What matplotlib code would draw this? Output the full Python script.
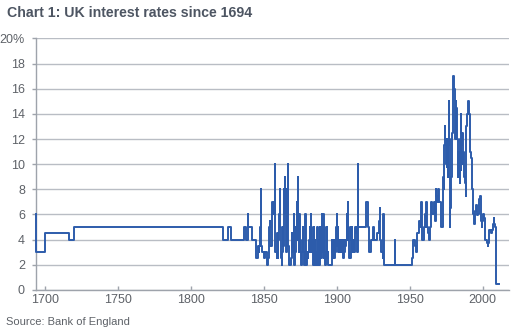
import matplotlib
matplotlib.use("Agg")
import matplotlib.pyplot as plt

plt.rcParams["font.family"] = ["Liberation Sans", "DejaVu Sans"]

LINE = "#2d5cab"
INK = "#4d5562"
GREY = "#5e6268"
GRID = "#b9bdc4"

# Bank Rate: year of each change and the rate (%) in force from then on
years = [
    1694.0, 1694.3, 1700.0, 1716.4, 1719.8, 1822.3, 1825.8, 1827.5, 1836.4, 1837.8,
    1839.0, 1839.4, 1842.2, 1844.6, 1845.8, 1846.6, 1847.0, 1847.3, 1847.8, 1847.9,
    1848.0, 1848.4, 1848.9, 1849.9, 1850.9, 1852.3, 1853.0, 1853.7, 1854.3, 1854.6,
    1855.4, 1855.7, 1855.8, 1856.2, 1856.8, 1856.9, 1857.4, 1857.8, 1857.85, 1857.95,
    1858.0, 1858.05, 1858.9, 1859.3, 1859.5, 1859.6, 1860.0, 1860.3, 1860.5, 1860.8,
    1861.0, 1861.1, 1861.2, 1861.4, 1861.6, 1861.8, 1862.0, 1862.5, 1862.8, 1863.0,
    1863.2, 1863.4, 1863.8, 1863.9, 1864.0, 1864.2, 1864.3, 1864.5, 1864.6, 1864.7,
    1864.9, 1865.0, 1865.2, 1865.5, 1865.7, 1865.8, 1866.0, 1866.2, 1866.4, 1866.6,
    1866.7, 1866.8, 1866.9, 1867.1, 1868.9, 1869.3, 1869.5, 1870.0, 1870.5, 1870.6,
    1870.7, 1871.0, 1871.5, 1871.8, 1872.0, 1872.3, 1872.7, 1872.9, 1873.0, 1873.3,
    1873.4, 1873.5, 1873.7, 1873.9, 1874.3, 1874.5, 1874.6, 1875.0, 1875.3, 1875.6,
    1876.0, 1876.5, 1877.0, 1877.2, 1877.5, 1878.0, 1878.3, 1878.6, 1878.8, 1879.1,
    1879.9, 1880.3, 1880.6, 1881.0, 1881.5, 1881.8, 1882.1, 1882.2, 1882.4, 1882.7,
    1883.0, 1883.3, 1883.6, 1884.0, 1884.5, 1884.7, 1885.0, 1885.4, 1885.8, 1886.0,
    1886.5, 1886.7, 1887.0, 1887.5, 1887.8, 1888.0, 1888.5, 1888.7, 1889.0, 1889.3,
    1889.6, 1889.9, 1890.0, 1890.5, 1890.7, 1891.0, 1891.3, 1891.6, 1891.9, 1892.2,
    1893.0, 1893.3, 1893.5, 1893.8, 1894.1, 1896.7, 1896.9, 1897.2, 1897.8, 1898.0,
    1898.4, 1898.7, 1898.9, 1899.2, 1899.6, 1899.9, 1900.0, 1900.2, 1900.5, 1900.7,
    1901.0, 1901.5, 1901.7, 1902.0, 1902.4, 1902.8, 1903.1, 1903.4, 1903.7, 1904.0,
    1904.3, 1904.6, 1905.0, 1905.5, 1905.7, 1906.0, 1906.5, 1906.8, 1907.0, 1907.2,
    1907.5, 1907.8, 1908.0, 1908.2, 1908.5, 1909.0, 1909.3, 1909.7, 1910.0, 1910.2,
    1910.5, 1910.8, 1911.0, 1911.8, 1912.0, 1912.7, 1913.0, 1913.5, 1913.8, 1914.0,
    1914.55, 1914.6, 1919.8, 1920.3, 1921.3, 1921.5, 1921.7, 1921.9, 1922.3, 1923.5,
    1925.2, 1925.8, 1927.3, 1929.1, 1929.7, 1929.9, 1930.0, 1930.3, 1931.4, 1931.6,
    1932.1, 1932.2, 1932.5, 1939.65, 1939.8, 1951.9, 1952.2, 1953.7, 1954.4, 1955.1,
    1956.1, 1957.2, 1957.7, 1958.2, 1959.8, 1960.3, 1960.9, 1961.5, 1961.9, 1962.3,
    1963.0, 1964.1, 1964.9, 1965.4, 1966.5, 1967.1, 1967.5, 1967.8, 1968.2, 1968.7,
    1969.2, 1970.2, 1971.3, 1971.7, 1972.5, 1972.8, 1973.0, 1973.3, 1973.6, 1973.9,
    1974.1, 1974.6, 1975.1, 1975.4, 1975.6, 1975.8, 1976.2, 1976.4, 1976.7, 1977.0,
    1977.3, 1977.7, 1977.9, 1978.3, 1978.9, 1979.4, 1979.9, 1980.5, 1980.9, 1981.2,
    1981.7, 1981.9, 1982.2, 1982.5, 1982.8, 1982.9, 1983.2, 1983.5, 1984.2, 1984.6,
    1984.9, 1985.1, 1985.4, 1985.8, 1986.1, 1986.5, 1986.8, 1987.3, 1987.8, 1988.4,
    1988.6, 1988.9, 1989.4, 1989.8, 1990.8, 1991.2, 1991.5, 1991.8, 1992.7, 1992.8,
    1993.1, 1993.9, 1994.1, 1994.7, 1994.9, 1995.1, 1995.9, 1996.3, 1996.8, 1997.4,
    1997.8, 1998.4, 1998.8, 1998.9, 1999.1, 1999.4, 1999.8, 2000.1, 2001.1, 2001.4,
    2001.7, 2001.9, 2003.1, 2003.5, 2003.9, 2004.2, 2004.5, 2005.6, 2006.6, 2006.9,
    2007.1, 2007.5, 2007.9, 2008.1, 2008.3, 2008.8, 2008.85, 2008.95, 2009.05, 2009.1,
    2009.2, 2011.5,
]
rates = [
    6, 3, 4.5, 4, 5, 4, 5, 4, 5, 4,
    6, 5, 4, 2.5, 3.5, 3, 3.5, 5, 8, 5,
    4, 3.5, 3, 2.5, 3, 2, 2.5, 5, 5.5, 3.5,
    3.5, 6, 7, 6, 7, 6, 6.5, 8, 10, 8,
    6, 3, 2.5, 4.5, 3, 2.5, 4, 5, 4, 6,
    7, 8, 6, 5, 4, 3, 2.5, 2, 3, 5,
    4, 3.5, 6, 8, 7, 6, 9, 6, 8, 9,
    6, 5, 3.5, 3, 5, 7, 8, 6, 10, 8,
    5, 4, 3.5, 2, 2.5, 4.5, 3, 3, 6, 4,
    2.5, 2, 3, 5, 3, 4, 6, 7, 5, 4,
    9, 6, 4, 3, 4, 6, 3, 4, 3, 2,
    2, 3, 5, 3, 2, 3, 5, 6, 4, 2,
    3, 2.5, 3, 4, 5, 3, 6, 4, 3, 5,
    3, 4, 3, 2, 5, 3, 4, 2, 3, 2,
    4, 5, 3, 2, 4, 2, 5, 3, 5, 2.5,
    5, 6, 3, 4, 6, 4, 2.5, 5, 3, 2,
    3, 5, 2.5, 3, 2, 4, 3, 2.5, 3, 4,
    2.5, 4, 3, 4, 5, 6, 5, 3.5, 4, 5,
    3, 4, 3, 4, 3, 4, 3, 4, 3, 4,
    3, 2.5, 3, 4, 3, 3.5, 4, 6, 5, 4,
    4.5, 7, 5, 3, 2.5, 3, 2.5, 5, 4, 3,
    5, 4, 3, 4, 3, 5, 4.5, 5, 4, 3,
    10, 5, 6, 7, 6, 5.5, 5, 4, 3, 4,
    5, 4, 4.5, 5.5, 6.5, 5, 4, 3, 2.5, 6,
    5, 3, 2, 4, 2, 2.5, 4, 3.5, 3, 4.5,
    5.5, 5, 7, 4, 5, 6, 5, 7, 5, 4.5,
    4, 5, 7, 6, 7, 6, 5.5, 8, 7.5, 7,
    8, 7, 6, 5, 6, 7.5, 9, 8, 11.5, 13,
    12, 11.5, 10, 9.75, 11, 12, 9, 11.5, 15, 12,
    9, 5, 6.5, 9, 12.5, 14, 17, 16, 14, 12,
    15, 14.5, 13, 12, 9, 10, 11, 9.5, 8.5, 12,
    9.5, 14, 12.5, 11.5, 12.5, 10, 11, 9, 8.5, 7.5,
    10, 13, 14, 15, 14, 12.5, 11, 10.5, 9, 8,
    6, 5.5, 5.25, 5.75, 6.25, 6.75, 6.5, 5.94, 6, 6.5,
    7.25, 7.5, 7, 6.25, 5.5, 5, 5.5, 6, 5.75, 5.25,
    4.75, 4, 3.75, 3.5, 3.75, 4.25, 4.75, 4.5, 4.75, 5,
    5.25, 5.75, 5.5, 5.25, 5, 4.5, 3, 2, 1.5, 1,
    0.5, 0.5,
]

x_ticks = [1700, 1750, 1800, 1850, 1900, 1950, 2000]
y_ticks = list(range(0, 21, 2))
y_labels = [str(v) for v in y_ticks[:-1]] + ["20%"]

fig = plt.figure(figsize=(5.22, 3.34), dpi=100)
ax = fig.add_axes([0.069, 0.132, 0.906, 0.753])

ax.plot(years, rates, drawstyle="steps-post", color=LINE, lw=1.4, zorder=3,
        clip_on=False)

ax.set_xlim(1694, 2018)
ax.set_ylim(0, 20)
ax.set_xticks(x_ticks)
ax.set_yticks(y_ticks)
ax.set_yticklabels(y_labels)
ax.yaxis.grid(True, color=GRID, lw=1.0)
ax.set_axisbelow(True)

for side in ("top", "right"):
    ax.spines[side].set_visible(False)
for side in ("left", "bottom"):
    ax.spines[side].set_color("#9ea3ab")
    ax.spines[side].set_linewidth(1.0)
ax.tick_params(axis="both", colors="#9ea3ab", labelcolor=GREY, labelsize=9,
               length=3, width=1)
ax.tick_params(axis="x", direction="in", pad=3)
ax.tick_params(axis="y", pad=5)

fig.text(0.013, 0.962, "Chart 1: UK interest rates since 1694", ha="left", va="center",
         fontsize=10.2, fontweight="bold", color=INK)
fig.text(0.012, 0.035, "Source: Bank of England", ha="left", va="center",
         fontsize=8, color=GREY)

fig.savefig("out.png", dpi=100)
